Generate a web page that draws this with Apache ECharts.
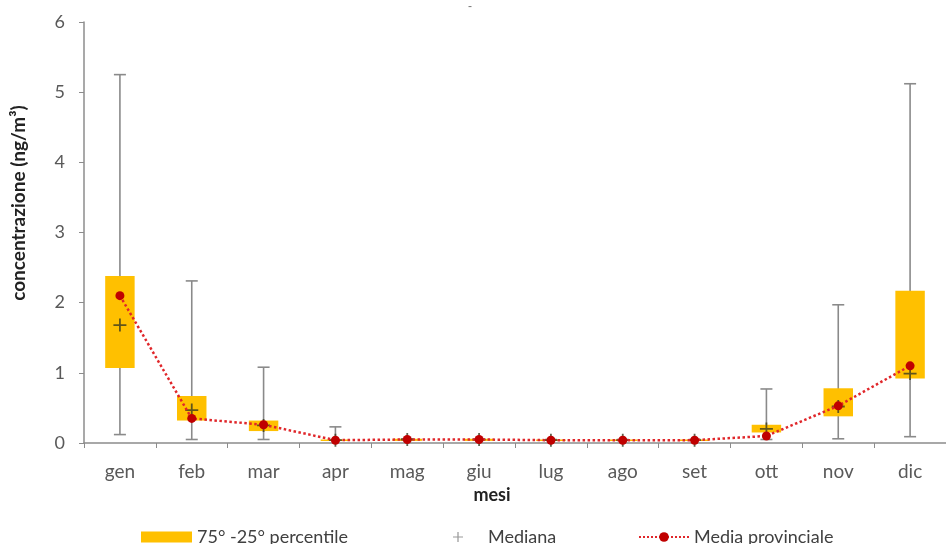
<!DOCTYPE html>
<html><head><meta charset="utf-8">
<script src="https://cdn.jsdelivr.net/npm/echarts@6/dist/echarts.min.js"></script>
<style>html,body{margin:0;padding:0;background:#fff}#c{width:946px;height:544px}</style>
</head><body><div id="c"></div>
<script>
const months = ['gen','feb','mar','apr','mag','giu','lug','ago','set','ott','nov','dic'];
const whiskerMin = [0.12,0.05,0.05,0.04,0.04,0.04,0.04,0.04,0.04,0.05,0.06,0.09];
const whiskerMax = [5.25,2.31,1.08,0.23,0.06,0.05,0.05,0.05,0.05,0.77,1.97,5.12];
const q1 = [1.07,0.32,0.17,0.03,0.03,0.03,0.03,0.03,0.03,0.15,0.38,0.92];
const q3 = [2.38,0.67,0.32,0.05,0.06,0.06,0.05,0.05,0.05,0.26,0.78,2.17];
const median = [1.68,0.47,0.25,0.04,0.05,0.05,0.04,0.04,0.04,0.20,0.52,0.99];
const mean = [2.10,0.35,0.26,0.04,0.05,0.05,0.04,0.04,0.04,0.10,0.53,1.10];
const yTicks = [0,1,2,3,4,5,6];

const boxData = months.map((m,i)=>[i, whiskerMin[i], q1[i], q3[i], whiskerMax[i]]);
const font = 'Lato, "Open Sans", Arial, sans-serif';

const chart = echarts.init(document.getElementById('c'));
chart.setOption({
  animation:false,
  title:{text:'-', left:463, top:-4, textStyle:{fontSize:12, color:'#777', fontWeight:'normal'}},
  graphic:[
    {type:'text', x:19, y:203, rotation:Math.PI/2,
      style:{text:'concentrazione (ng/m³)', textAlign:'center', textVerticalAlign:'middle',
        font:'bold 19px ' + font, fill:'#222'}},
    {type:'text', x:492, y:495,
      style:{text:'mesi', textAlign:'center', textVerticalAlign:'middle',
        font:'bold 18px ' + font, fill:'#222'}}
  ],
  grid:{left:84, right:-8, top:22, bottom:101},
  xAxis:{type:'category', data:months, boundaryGap:true,
    axisLine:{lineStyle:{color:'#8c8c8c', width:1.5}},
    axisTick:{show:true, alignWithLabel:false, length:5, lineStyle:{color:'#8c8c8c'}},
    axisLabel:{fontFamily:font, fontSize:19, color:'#595959', margin:19}},
  yAxis:{type:'value', min:0, max:6, interval:1,
    axisLine:{show:true, lineStyle:{color:'#8c8c8c', width:1.5}},
    axisTick:{show:true, length:5, lineStyle:{color:'#8c8c8c'}},
    splitLine:{show:false},
    axisLabel:{fontFamily:font, fontSize:18, color:'#595959', margin:19,
      formatter:v=>yTicks.includes(v)?String(v):''}},
  legend:[
    {data:[{name:'75° -25° percentile', icon:'rect'}], left:141, top:528, padding:0, itemWidth:51, itemHeight:11,
      textStyle:{fontFamily:font, fontSize:18, color:'#404040'}},
    {data:[{name:'Mediana', icon:'path://M5,0h1.4v5h5v1.4h-5v5h-1.4v-5h-5v-1.4h5z'}], left:453, top:528, padding:0, itemWidth:10, itemHeight:10,
      itemStyle:{color:'#808080'},
      textStyle:{fontFamily:font, fontSize:18, color:'#404040', padding:[0,0,0,20]}},
    {data:['Media provinciale'], left:638, top:528, padding:0, itemWidth:50, itemHeight:12,
      textStyle:{fontFamily:font, fontSize:18, color:'#404040'}}
  ],
  series:[
    {name:'75° -25° percentile', type:'custom', data:boxData, itemStyle:{color:'#FFC000'},
      encode:{x:0, y:[1,2,3,4]},
      renderItem:function(params, api){
        const x = api.value(0);
        const pMin = api.coord([x, api.value(1)]);
        const pQ1 = api.coord([x, api.value(2)]);
        const pQ3 = api.coord([x, api.value(3)]);
        const pMax = api.coord([x, api.value(4)]);
        const band = api.size([1,0])[0];
        const bw = band*0.41, cw = 12;
        const cx = pMin[0];
        const ls = {stroke:'#8a8a8a', lineWidth:1.6};
        return {type:'group', children:[
          {type:'line', shape:{x1:cx,y1:pMin[1],x2:cx,y2:pMax[1]}, style:ls},
          {type:'line', shape:{x1:cx-cw/2,y1:pMax[1],x2:cx+cw/2,y2:pMax[1]}, style:ls},
          {type:'line', shape:{x1:cx-cw/2,y1:pMin[1],x2:cx+cw/2,y2:pMin[1]}, style:ls},
          {type:'rect', shape:{x:cx-bw/2, y:pQ3[1], width:bw, height:Math.max(pQ1[1]-pQ3[1],1.5)}, style:{fill:'#FFC000'}}
        ]};
      }, z:2},
    {name:'Mediana', type:'scatter', data:median, symbol:'path://M5,0h1.6v5h5v1.6h-5v5h-1.6v-5h-5v-1.6h5z', symbolSize:13,
      itemStyle:{color:'#3a3a20'}, z:4},
    {name:'Media provinciale', type:'line', data:mean, symbol:'circle', symbolSize:9,
      itemStyle:{color:'#C00000'}, lineStyle:{color:'#E0262A', type:'dotted', width:2.5}, z:5}
  ]
});
</script></body></html>
